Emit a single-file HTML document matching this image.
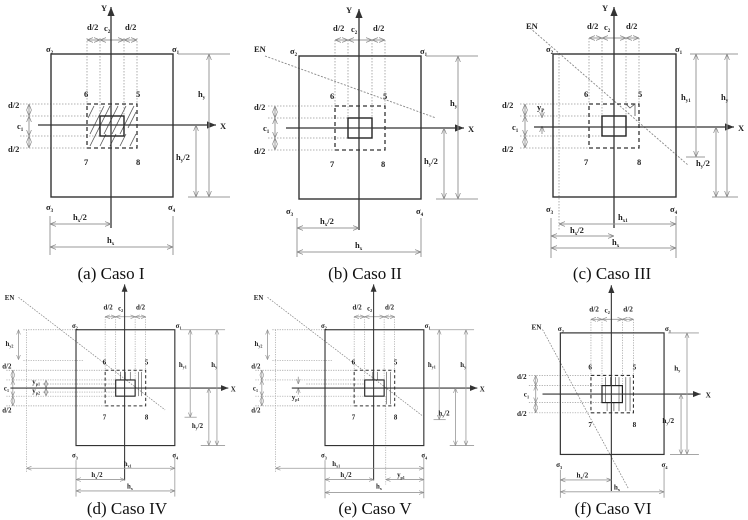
<!DOCTYPE html>
<html><head><meta charset="utf-8"><style>
html,body{margin:0;padding:0;background:#fff;}
svg{display:block;}
.t{font-family:"Liberation Serif",serif;font-weight:bold;font-size:8.5px;fill:#222;}
.cap{font-family:"Liberation Serif",serif;font-size:17px;fill:#111;}
.sq{fill:none;stroke:#333;stroke-width:1.4;}
.ax{stroke:#333;stroke-width:1.3;fill:none;}
.dim{stroke:#999;stroke-width:1;fill:none;}
.dt{stroke:#999;stroke-width:0.8;stroke-dasharray:1.5,1.5;fill:none;}
.ds{stroke:#333;stroke-width:1.3;stroke-dasharray:4,3;fill:none;}
.col{fill:none;stroke:#222;stroke-width:1.4;}
.en{stroke:#888;stroke-width:0.9;stroke-dasharray:2,1.5;fill:none;}
.h{stroke:#555;stroke-width:0.8;fill:none;}
</style></head><body>
<svg width="748" height="520" viewBox="0 0 748 520" xmlns="http://www.w3.org/2000/svg">
<defs>
<marker id="a" viewBox="0 0 10 10" refX="10" refY="5" markerWidth="6" markerHeight="6" orient="auto-start-reverse"><path d="M0,1 L10,5 L0,9" fill="none" stroke="#888" stroke-width="1.2"/></marker>
<marker id="b" viewBox="0 0 10 10" refX="10" refY="5" markerWidth="7" markerHeight="7" orient="auto"><path d="M0,1 L10,5 L0,9 z" fill="#333"/></marker>
</defs>

<!-- ========== Panel A ========== -->
<g>
<line class="dt" x1="87" y1="38" x2="87" y2="104"/><line class="dt" x1="100" y1="38" x2="100" y2="116"/><line class="dt" x1="124" y1="38" x2="124" y2="116"/><line class="dt" x1="137" y1="38" x2="137" y2="104"/>
<line class="dt" x1="20" y1="104" x2="87" y2="104"/><line class="dt" x1="20" y1="116" x2="100" y2="116"/><line class="dt" x1="20" y1="136" x2="100" y2="136"/><line class="dt" x1="20" y1="148" x2="87" y2="148"/>
<line class="dim" x1="87" y1="40" x2="100" y2="40" marker-start="url(#a)" marker-end="url(#a)"/><line class="dim" x1="100" y1="40" x2="124" y2="40" marker-start="url(#a)" marker-end="url(#a)"/><line class="dim" x1="124" y1="40" x2="137" y2="40" marker-start="url(#a)" marker-end="url(#a)"/>
<text class="t" x="87" y="30">d/2</text><text class="t" x="104" y="31">c<tspan font-size="5" dy="2">2</tspan></text><text class="t" x="125" y="30">d/2</text>
<line class="dim" x1="29" y1="104" x2="29" y2="116" marker-start="url(#a)" marker-end="url(#a)"/><line class="dim" x1="29" y1="116" x2="29" y2="136" marker-start="url(#a)" marker-end="url(#a)"/><line class="dim" x1="29" y1="136" x2="29" y2="148" marker-start="url(#a)" marker-end="url(#a)"/>
<text class="t" x="8" y="108">d/2</text><text class="t" x="17" y="129">c<tspan font-size="5" dy="2">1</tspan></text><text class="t" x="8" y="152">d/2</text>
<rect class="sq" x="51" y="54" width="122" height="143"/>
<path class="h" d="M90,134 L104,106 M96,134 L110,106 M104,134 L118,106 M112,134 L126,106 M120,134 L134,106 M90,146 L96,134 M100,146 L106,134 M110,146 L116,134 M120,146 L126,134 M130,146 L136,134 M88,118 L94,106 M128,128 L136,112"/>
<rect class="ds" x="87" y="104" width="50" height="44"/>
<rect class="col" x="100" y="116" width="24" height="20"/>
<line class="ax" x1="111" y1="228" x2="111" y2="7" marker-end="url(#b)"/>
<line class="ax" x1="38" y1="125" x2="216" y2="125" marker-end="url(#b)"/>
<text class="t" x="101" y="11" font-size="10">Y</text><text class="t" x="220" y="129" font-size="10">X</text>
<text class="t" x="84" y="97">6</text><text class="t" x="136" y="97">5</text><text class="t" x="84" y="165">7</text><text class="t" x="136" y="165">8</text>
<text class="t" x="46" y="52">σ<tspan font-size="5" dy="2">2</tspan></text><text class="t" x="172" y="52">σ<tspan font-size="5" dy="2">1</tspan></text>
<text class="t" x="46" y="210">σ<tspan font-size="5" dy="2">3</tspan></text><text class="t" x="168" y="210">σ<tspan font-size="5" dy="2">4</tspan></text>
<line class="dim" x1="178" y1="54" x2="230" y2="54"/><line class="dim" x1="188" y1="197" x2="230" y2="197"/>
<line class="dim" x1="209" y1="54" x2="209" y2="197" marker-start="url(#a)" marker-end="url(#a)"/><line class="dim" x1="196" y1="125" x2="196" y2="197" marker-start="url(#a)" marker-end="url(#a)"/>
<text class="t" x="198" y="97">h<tspan font-size="5" dy="2">y</tspan></text><text class="t" x="176" y="160">h<tspan font-size="5" dy="2">y</tspan><tspan dy="-2">/2</tspan></text>
<line class="dim" x1="50" y1="216" x2="50" y2="255"/><line class="dim" x1="173" y1="216" x2="173" y2="255"/>
<line class="dim" x1="50" y1="224" x2="111" y2="224" marker-start="url(#a)" marker-end="url(#a)"/><line class="dim" x1="50" y1="247" x2="173" y2="247" marker-start="url(#a)" marker-end="url(#a)"/>
<text class="t" x="73" y="220">h<tspan font-size="5" dy="2">x</tspan><tspan dy="-2">/2</tspan></text><text class="t" x="107" y="243">h<tspan font-size="5" dy="2">x</tspan></text>
</g>
<text class="cap" x="111" y="279" text-anchor="middle">(a) Caso I</text>

<!-- ========== Panel B ========== -->
<g transform="translate(248,2)">
<line class="dt" x1="87" y1="38" x2="87" y2="104"/><line class="dt" x1="100" y1="38" x2="100" y2="116"/><line class="dt" x1="124" y1="38" x2="124" y2="116"/><line class="dt" x1="137" y1="38" x2="137" y2="104"/>
<line class="dt" x1="20" y1="104" x2="87" y2="104"/><line class="dt" x1="20" y1="116" x2="100" y2="116"/><line class="dt" x1="20" y1="136" x2="100" y2="136"/><line class="dt" x1="20" y1="148" x2="87" y2="148"/>
<line class="dim" x1="87" y1="38" x2="100" y2="38" marker-start="url(#a)" marker-end="url(#a)"/><line class="dim" x1="100" y1="38" x2="124" y2="38" marker-start="url(#a)" marker-end="url(#a)"/><line class="dim" x1="124" y1="38" x2="137" y2="38" marker-start="url(#a)" marker-end="url(#a)"/>
<text class="t" x="85" y="29">d/2</text><text class="t" x="103" y="30">c<tspan font-size="5" dy="2">2</tspan></text><text class="t" x="125" y="29">d/2</text>
<line class="dim" x1="27" y1="104" x2="27" y2="116" marker-start="url(#a)" marker-end="url(#a)"/><line class="dim" x1="27" y1="116" x2="27" y2="136" marker-start="url(#a)" marker-end="url(#a)"/><line class="dim" x1="27" y1="136" x2="27" y2="148" marker-start="url(#a)" marker-end="url(#a)"/>
<text class="t" x="6" y="108">d/2</text><text class="t" x="15" y="129">c<tspan font-size="5" dy="2">1</tspan></text><text class="t" x="6" y="152">d/2</text>
<line class="en" x1="17" y1="54" x2="188" y2="116"/><text class="t" x="6" y="50">EN</text>
<rect class="sq" x="51" y="54" width="122" height="143"/>
<rect class="ds" x="87" y="104" width="50" height="44"/>
<rect class="col" x="100" y="116" width="24" height="20"/>
<line class="ax" x1="111" y1="228" x2="111" y2="7" marker-end="url(#b)"/>
<line class="ax" x1="38" y1="126" x2="216" y2="126" marker-end="url(#b)"/>
<text class="t" x="98" y="11" font-size="10">Y</text><text class="t" x="220" y="130" font-size="10">X</text>
<text class="t" x="82" y="97">6</text><text class="t" x="135" y="97">5</text><text class="t" x="82" y="165">7</text><text class="t" x="133" y="165">8</text>
<text class="t" x="42" y="52">σ<tspan font-size="5" dy="2">2</tspan></text><text class="t" x="172" y="52">σ<tspan font-size="5" dy="2">1</tspan></text>
<text class="t" x="38" y="212">σ<tspan font-size="5" dy="2">3</tspan></text><text class="t" x="168" y="212">σ<tspan font-size="5" dy="2">4</tspan></text>
<line class="dim" x1="178" y1="54" x2="230" y2="54"/><line class="dim" x1="188" y1="197" x2="230" y2="197"/>
<line class="dim" x1="210" y1="54" x2="210" y2="197" marker-start="url(#a)" marker-end="url(#a)"/><line class="dim" x1="196" y1="126" x2="196" y2="197" marker-start="url(#a)" marker-end="url(#a)"/>
<text class="t" x="202" y="104">h<tspan font-size="5" dy="2">y</tspan></text><text class="t" x="176" y="162">h<tspan font-size="5" dy="2">y</tspan><tspan dy="-2">/2</tspan></text>
<line class="dim" x1="49" y1="216" x2="49" y2="255"/><line class="dim" x1="173" y1="216" x2="173" y2="255"/>
<line class="dim" x1="49" y1="226" x2="111" y2="226" marker-start="url(#a)" marker-end="url(#a)"/><line class="dim" x1="49" y1="250" x2="173" y2="250" marker-start="url(#a)" marker-end="url(#a)"/>
<text class="t" x="72" y="222">h<tspan font-size="5" dy="2">x</tspan><tspan dy="-2">/2</tspan></text><text class="t" x="107" y="246">h<tspan font-size="5" dy="2">x</tspan></text>
</g>
<text class="cap" x="365" y="279" text-anchor="middle">(b) Caso II</text>

<!-- ========== Panel C ========== -->
<g transform="translate(500,0)">
<line class="dt" x1="89" y1="38" x2="89" y2="104"/><line class="dt" x1="102" y1="38" x2="102" y2="116"/><line class="dt" x1="126" y1="38" x2="126" y2="116"/><line class="dt" x1="139" y1="38" x2="139" y2="104"/>
<line class="dt" x1="59" y1="54" x2="59" y2="230"/>
<line class="dt" x1="20" y1="104" x2="89" y2="104"/><line class="dt" x1="20" y1="116" x2="102" y2="116"/><line class="dt" x1="20" y1="136" x2="102" y2="136"/><line class="dt" x1="20" y1="148" x2="89" y2="148"/>
<line class="dim" x1="89" y1="38" x2="102" y2="38" marker-start="url(#a)" marker-end="url(#a)"/><line class="dim" x1="102" y1="38" x2="126" y2="38" marker-start="url(#a)" marker-end="url(#a)"/><line class="dim" x1="126" y1="38" x2="139" y2="38" marker-start="url(#a)" marker-end="url(#a)"/>
<text class="t" x="87" y="29">d/2</text><text class="t" x="104" y="30">c<tspan font-size="5" dy="2">2</tspan></text><text class="t" x="126" y="29">d/2</text>
<line class="dim" x1="25" y1="104" x2="25" y2="116" marker-start="url(#a)" marker-end="url(#a)"/><line class="dim" x1="25" y1="116" x2="25" y2="136" marker-start="url(#a)" marker-end="url(#a)"/><line class="dim" x1="25" y1="136" x2="25" y2="148" marker-start="url(#a)" marker-end="url(#a)"/>
<line class="dim" x1="42" y1="110" x2="42" y2="118" marker-end="url(#a)"/><line class="dim" x1="42" y1="134" x2="42" y2="126" marker-end="url(#a)"/>
<text class="t" x="2" y="108">d/2</text><text class="t" x="12" y="130">c<tspan font-size="5" dy="2">1</tspan></text><text class="t" x="2" y="152">d/2</text>
<text class="t" x="37" y="110">y<tspan font-size="5" dy="2">P</tspan></text>
<line class="en" x1="30" y1="28" x2="188" y2="165"/><text class="t" x="26" y="29">EN</text>
<rect class="sq" x="53" y="54" width="123" height="143"/>
<rect class="ds" x="89" y="104" width="50" height="44"/>
<path class="h" d="M126,104 L130,108 L135,104 L135,116"/>
<rect class="col" x="102" y="116" width="24" height="20"/>
<line class="ax" x1="114" y1="228" x2="114" y2="7" marker-end="url(#b)"/>
<line class="ax" x1="34" y1="127" x2="234" y2="127" marker-end="url(#b)"/>
<text class="t" x="102" y="11" font-size="10">Y</text><text class="t" x="238" y="131" font-size="10">X</text>
<text class="t" x="84" y="97">6</text><text class="t" x="138" y="97">5</text><text class="t" x="84" y="165">7</text><text class="t" x="137" y="165">8</text>
<text class="t" x="46" y="52">σ<tspan font-size="5" dy="2">2</tspan></text><text class="t" x="175" y="52">σ<tspan font-size="5" dy="2">1</tspan></text>
<text class="t" x="46" y="212">σ<tspan font-size="5" dy="2">3</tspan></text><text class="t" x="170" y="212">σ<tspan font-size="5" dy="2">4</tspan></text>
<line class="dim" x1="190" y1="54" x2="238" y2="54"/><line class="dim" x1="212" y1="197" x2="238" y2="197"/><line class="dim" x1="186" y1="157" x2="205" y2="157"/>
<line class="dim" x1="196" y1="54" x2="196" y2="157" marker-start="url(#a)" marker-end="url(#a)"/>
<line class="dim" x1="227" y1="54" x2="227" y2="197" marker-start="url(#a)" marker-end="url(#a)"/><line class="dim" x1="216" y1="127" x2="216" y2="197" marker-start="url(#a)" marker-end="url(#a)"/>
<text class="t" x="181" y="100">h<tspan font-size="5" dy="2">y1</tspan></text><text class="t" x="221" y="100">h<tspan font-size="5" dy="2">y</tspan></text>
<text class="t" x="196" y="166">h<tspan font-size="5" dy="2">y</tspan><tspan dy="-2">/2</tspan></text>
<line class="dim" x1="51" y1="218" x2="51" y2="258"/><line class="dim" x1="176" y1="216" x2="176" y2="258"/>
<line class="dim" x1="59" y1="224" x2="176" y2="224" marker-start="url(#a)" marker-end="url(#a)"/>
<line class="dim" x1="51" y1="236" x2="114" y2="236" marker-start="url(#a)" marker-end="url(#a)"/><line class="dim" x1="51" y1="248" x2="176" y2="248" marker-start="url(#a)" marker-end="url(#a)"/>
<text class="t" x="118" y="220">h<tspan font-size="5" dy="2">x1</tspan></text>
<text class="t" x="70" y="233">h<tspan font-size="5" dy="2">x</tspan><tspan dy="-2">/2</tspan></text><text class="t" x="112" y="245">h<tspan font-size="5" dy="2">x</tspan></text>
</g>
<text class="cap" x="612" y="279" text-anchor="middle">(c) Caso III</text>

<!-- ========== Panel D ========== -->
<g transform="translate(34.7,286) scale(0.81)">
<line class="dt" x1="87" y1="38" x2="87" y2="104"/><line class="dt" x1="100" y1="38" x2="100" y2="116"/><line class="dt" x1="124" y1="38" x2="124" y2="116"/><line class="dt" x1="137" y1="38" x2="137" y2="104"/>
<line class="dt" x1="-14" y1="54" x2="51" y2="54"/><line class="dt" x1="-14" y1="92" x2="60" y2="92"/><line class="dt" x1="-10" y1="54" x2="-10" y2="230"/>
<line class="dt" x1="-35" y1="104" x2="87" y2="104"/><line class="dt" x1="-35" y1="116" x2="100" y2="116"/><line class="dt" x1="-35" y1="136" x2="100" y2="136"/><line class="dt" x1="-35" y1="148" x2="87" y2="148"/>
<line class="dt" x1="10" y1="121" x2="100" y2="121"/><line class="dt" x1="10" y1="131" x2="100" y2="131"/>
<line class="dim" x1="87" y1="38" x2="100" y2="38" marker-start="url(#a)" marker-end="url(#a)"/><line class="dim" x1="100" y1="38" x2="124" y2="38" marker-start="url(#a)" marker-end="url(#a)"/><line class="dim" x1="124" y1="38" x2="137" y2="38" marker-start="url(#a)" marker-end="url(#a)"/>
<text class="t" x="85" y="29">d/2</text><text class="t" x="103" y="30">c<tspan font-size="5" dy="2">2</tspan></text><text class="t" x="125" y="29">d/2</text>
<line class="dim" x1="-20" y1="54" x2="-20" y2="91" marker-start="url(#a)" marker-end="url(#a)"/><text class="t" x="-36" y="74">h<tspan font-size="5" dy="2">y2</tspan></text>
<line class="dim" x1="-27" y1="104" x2="-27" y2="116" marker-start="url(#a)" marker-end="url(#a)"/><line class="dim" x1="-27" y1="116" x2="-27" y2="136" marker-start="url(#a)" marker-end="url(#a)"/><line class="dim" x1="-27" y1="136" x2="-27" y2="148" marker-start="url(#a)" marker-end="url(#a)"/>
<line class="dim" x1="14" y1="116" x2="14" y2="126" marker-start="url(#a)" marker-end="url(#a)"/><line class="dim" x1="14" y1="126" x2="14" y2="136" marker-start="url(#a)" marker-end="url(#a)"/>
<text class="t" x="-40" y="102">d/2</text><text class="t" x="-38" y="129">c<tspan font-size="5" dy="2">1</tspan></text><text class="t" x="-40" y="156">d/2</text>
<text class="t" x="-3" y="121">y<tspan font-size="5" dy="2">p1</tspan></text><text class="t" x="-3" y="132">y<tspan font-size="5" dy="2">p2</tspan></text>
<line class="en" x1="-20" y1="14" x2="161" y2="153"/><text class="t" x="-37" y="17">EN</text>
<rect class="sq" x="51" y="54" width="122" height="143"/>
<path class="h" d="M106,106 V116 M112,106 V116 M118,106 V116 M128,106 V136 M132,106 V136"/>
<rect class="ds" x="87" y="104" width="50" height="44"/>
<rect class="col" x="100" y="116" width="24" height="20"/>
<line class="ax" x1="111" y1="240" x2="111" y2="-2" marker-end="url(#b)"/>
<line class="ax" x1="-30" y1="126" x2="239" y2="126" marker-end="url(#b)"/>
<text class="t" x="242" y="130" font-size="10">X</text>
<text class="t" x="84" y="97">6</text><text class="t" x="136" y="97">5</text><text class="t" x="84" y="165">7</text><text class="t" x="136" y="165">8</text>
<text class="t" x="46" y="52">σ<tspan font-size="5" dy="2">2</tspan></text><text class="t" x="174" y="52">σ<tspan font-size="5" dy="2">1</tspan></text>
<text class="t" x="46" y="212">σ<tspan font-size="5" dy="2">3</tspan></text><text class="t" x="170" y="212">σ<tspan font-size="5" dy="2">4</tspan></text>
<line class="dim" x1="180" y1="54" x2="235" y2="54"/><line class="dim" x1="205" y1="197" x2="235" y2="197"/><line class="dim" x1="185" y1="162" x2="200" y2="162"/>
<line class="dim" x1="192" y1="54" x2="192" y2="162" marker-start="url(#a)" marker-end="url(#a)"/>
<line class="dim" x1="225" y1="54" x2="225" y2="197" marker-start="url(#a)" marker-end="url(#a)"/><line class="dim" x1="215" y1="126" x2="215" y2="197" marker-start="url(#a)" marker-end="url(#a)"/>
<text class="t" x="178" y="100">h<tspan font-size="5" dy="2">y1</tspan></text><text class="t" x="218" y="100">h<tspan font-size="5" dy="2">y</tspan></text>
<text class="t" x="194" y="175">h<tspan font-size="5" dy="2">y</tspan><tspan dy="-2">/2</tspan></text>
<line class="dim" x1="51" y1="215" x2="51" y2="260"/><line class="dim" x1="173" y1="212" x2="173" y2="260"/>
<line class="dim" x1="-10" y1="225" x2="173" y2="225" marker-start="url(#a)" marker-end="url(#a)"/>
<line class="dim" x1="51" y1="239" x2="111" y2="239" marker-start="url(#a)" marker-end="url(#a)"/><line class="dim" x1="51" y1="253" x2="173" y2="253" marker-start="url(#a)" marker-end="url(#a)"/>
<text class="t" x="110" y="222">h<tspan font-size="5" dy="2">x1</tspan></text>
<text class="t" x="70" y="236">h<tspan font-size="5" dy="2">x</tspan><tspan dy="-2">/2</tspan></text><text class="t" x="114" y="250">h<tspan font-size="5" dy="2">x</tspan></text>
</g>
<text class="cap" x="127" y="514" text-anchor="middle">(d) Caso IV</text>

<!-- ========== Panel E ========== -->
<g transform="translate(283.7,286) scale(0.81)">
<line class="dt" x1="87" y1="38" x2="87" y2="104"/><line class="dt" x1="100" y1="38" x2="100" y2="116"/><line class="dt" x1="124" y1="38" x2="124" y2="116"/><line class="dt" x1="137" y1="38" x2="137" y2="104"/>
<line class="dt" x1="-14" y1="54" x2="51" y2="54"/><line class="dt" x1="-14" y1="92" x2="60" y2="92"/><line class="dt" x1="-10" y1="54" x2="-10" y2="230"/>
<line class="dt" x1="-35" y1="104" x2="87" y2="104"/><line class="dt" x1="-35" y1="116" x2="100" y2="116"/><line class="dt" x1="-35" y1="136" x2="100" y2="136"/><line class="dt" x1="-35" y1="148" x2="87" y2="148"/>
<line class="dt" x1="28" y1="121" x2="100" y2="121"/><line class="dt" x1="126" y1="136" x2="126" y2="245"/>
<line class="dim" x1="87" y1="38" x2="100" y2="38" marker-start="url(#a)" marker-end="url(#a)"/><line class="dim" x1="100" y1="38" x2="124" y2="38" marker-start="url(#a)" marker-end="url(#a)"/><line class="dim" x1="124" y1="38" x2="137" y2="38" marker-start="url(#a)" marker-end="url(#a)"/>
<text class="t" x="85" y="29">d/2</text><text class="t" x="103" y="30">c<tspan font-size="5" dy="2">2</tspan></text><text class="t" x="125" y="29">d/2</text>
<line class="dim" x1="-20" y1="54" x2="-20" y2="91" marker-start="url(#a)" marker-end="url(#a)"/><text class="t" x="-36" y="74">h<tspan font-size="5" dy="2">y2</tspan></text>
<line class="dim" x1="-27" y1="104" x2="-27" y2="116" marker-start="url(#a)" marker-end="url(#a)"/><line class="dim" x1="-27" y1="116" x2="-27" y2="136" marker-start="url(#a)" marker-end="url(#a)"/><line class="dim" x1="-27" y1="136" x2="-27" y2="148" marker-start="url(#a)" marker-end="url(#a)"/>
<line class="dim" x1="18" y1="112" x2="18" y2="121" marker-end="url(#a)"/><line class="dim" x1="18" y1="134" x2="18" y2="126" marker-end="url(#a)"/>
<text class="t" x="-40" y="102">d/2</text><text class="t" x="-38" y="129">c<tspan font-size="5" dy="2">1</tspan></text><text class="t" x="-40" y="156">d/2</text>
<text class="t" x="10" y="140">y<tspan font-size="5" dy="2">p1</tspan></text>
<line class="en" x1="-20" y1="14" x2="171" y2="160"/><text class="t" x="-37" y="17">EN</text>
<rect class="sq" x="51" y="54" width="122" height="143"/>
<path class="h" d="M127,106 V146 M132,106 V146 M110,106 V116 M116,106 V116"/>
<rect class="ds" x="87" y="104" width="50" height="44"/>
<rect class="col" x="100" y="116" width="24" height="20"/>
<line class="ax" x1="111" y1="240" x2="111" y2="-2" marker-end="url(#b)"/>
<line class="ax" x1="10" y1="126" x2="239" y2="126" marker-end="url(#b)"/>
<text class="t" x="242" y="130" font-size="10">X</text>
<text class="t" x="84" y="97">6</text><text class="t" x="136" y="97">5</text><text class="t" x="84" y="165">7</text><text class="t" x="136" y="165">8</text>
<text class="t" x="46" y="52">σ<tspan font-size="5" dy="2">2</tspan></text><text class="t" x="174" y="52">σ<tspan font-size="5" dy="2">1</tspan></text>
<text class="t" x="46" y="212">σ<tspan font-size="5" dy="2">3</tspan></text><text class="t" x="170" y="212">σ<tspan font-size="5" dy="2">4</tspan></text>
<line class="dim" x1="180" y1="54" x2="235" y2="54"/><line class="dim" x1="205" y1="197" x2="235" y2="197"/><line class="dim" x1="185" y1="165" x2="200" y2="165"/>
<line class="dim" x1="192" y1="54" x2="192" y2="165" marker-start="url(#a)" marker-end="url(#a)"/>
<line class="dim" x1="225" y1="54" x2="225" y2="197" marker-start="url(#a)" marker-end="url(#a)"/><line class="dim" x1="212" y1="126" x2="212" y2="197" marker-start="url(#a)" marker-end="url(#a)"/>
<text class="t" x="178" y="100">h<tspan font-size="5" dy="2">y1</tspan></text><text class="t" x="218" y="100">h<tspan font-size="5" dy="2">y</tspan></text>
<text class="t" x="191" y="160">h<tspan font-size="5" dy="2">y</tspan><tspan dy="-2">/2</tspan></text>
<line class="dim" x1="51" y1="215" x2="51" y2="262"/><line class="dim" x1="173" y1="212" x2="173" y2="262"/>
<line class="dim" x1="-10" y1="225" x2="173" y2="225" marker-start="url(#a)" marker-end="url(#a)"/>
<line class="dim" x1="51" y1="239" x2="111" y2="239" marker-start="url(#a)" marker-end="url(#a)"/><line class="dim" x1="126" y1="239" x2="173" y2="239" marker-start="url(#a)" marker-end="url(#a)"/><line class="dim" x1="51" y1="255" x2="173" y2="255" marker-start="url(#a)" marker-end="url(#a)"/>
<text class="t" x="60" y="222">h<tspan font-size="5" dy="2">x1</tspan></text>
<text class="t" x="70" y="236">h<tspan font-size="5" dy="2">x</tspan><tspan dy="-2">/2</tspan></text><text class="t" x="140" y="236">y<tspan font-size="5" dy="2">p1</tspan></text><text class="t" x="114" y="250">h<tspan font-size="5" dy="2">x</tspan></text>
</g>
<text class="cap" x="375" y="514" text-anchor="middle">(e) Caso V</text>

<!-- ========== Panel F ========== -->
<g transform="translate(517,287) scale(0.85)">
<line class="dt" x1="87" y1="38" x2="87" y2="104"/><line class="dt" x1="100" y1="38" x2="100" y2="116"/><line class="dt" x1="124" y1="38" x2="124" y2="116"/><line class="dt" x1="137" y1="38" x2="137" y2="104"/>
<line class="dt" x1="14" y1="104" x2="87" y2="104"/><line class="dt" x1="14" y1="116" x2="100" y2="116"/><line class="dt" x1="14" y1="136" x2="100" y2="136"/><line class="dt" x1="14" y1="148" x2="87" y2="148"/>
<line class="dim" x1="87" y1="38" x2="100" y2="38" marker-start="url(#a)" marker-end="url(#a)"/><line class="dim" x1="100" y1="38" x2="124" y2="38" marker-start="url(#a)" marker-end="url(#a)"/><line class="dim" x1="124" y1="38" x2="137" y2="38" marker-start="url(#a)" marker-end="url(#a)"/>
<text class="t" x="85" y="29">d/2</text><text class="t" x="103" y="30">c<tspan font-size="5" dy="2">2</tspan></text><text class="t" x="125" y="29">d/2</text>
<line class="dim" x1="22" y1="104" x2="22" y2="116" marker-start="url(#a)" marker-end="url(#a)"/><line class="dim" x1="22" y1="116" x2="22" y2="136" marker-start="url(#a)" marker-end="url(#a)"/><line class="dim" x1="22" y1="136" x2="22" y2="148" marker-start="url(#a)" marker-end="url(#a)"/>
<text class="t" x="0" y="108">d/2</text><text class="t" x="8" y="129">c<tspan font-size="5" dy="2">1</tspan></text><text class="t" x="0" y="152">d/2</text>
<line class="en" x1="30" y1="50" x2="131" y2="237"/><text class="t" x="17" y="50">EN</text>
<rect class="sq" x="51" y="54" width="122" height="143"/>
<path class="h" d="M104,106 V136 M110,106 V116 M116,106 V116 M120,106 V136 M128,106 V146 M133,106 V146 M106,136 V146 M114,136 V146 M120,136 V146"/>
<rect class="ds" x="87" y="104" width="50" height="44"/>
<rect class="col" x="100" y="116" width="24" height="20"/>
<line class="ax" x1="111" y1="240" x2="111" y2="-2" marker-end="url(#b)"/>
<line class="ax" x1="30" y1="126" x2="216" y2="126" marker-end="url(#b)"/>
<text class="t" x="222" y="130" font-size="10">X</text>
<text class="t" x="84" y="97">6</text><text class="t" x="136" y="97">5</text><text class="t" x="84" y="165">7</text><text class="t" x="136" y="165">8</text>
<text class="t" x="48" y="52">σ<tspan font-size="5" dy="2">2</tspan></text><text class="t" x="174" y="52">σ<tspan font-size="5" dy="2">1</tspan></text>
<text class="t" x="46" y="212">σ<tspan font-size="5" dy="2">3</tspan></text><text class="t" x="170" y="212">σ<tspan font-size="5" dy="2">4</tspan></text>
<line class="dim" x1="178" y1="54" x2="214" y2="54"/><line class="dim" x1="180" y1="197" x2="214" y2="197"/>
<line class="dim" x1="200" y1="54" x2="200" y2="197" marker-start="url(#a)" marker-end="url(#a)"/><line class="dim" x1="193" y1="126" x2="193" y2="197" marker-start="url(#a)" marker-end="url(#a)"/>
<text class="t" x="185" y="98">h<tspan font-size="5" dy="2">y</tspan></text><text class="t" x="171" y="160">h<tspan font-size="5" dy="2">y</tspan><tspan dy="-2">/2</tspan></text>
<line class="dim" x1="51" y1="215" x2="51" y2="248"/><line class="dim" x1="173" y1="212" x2="173" y2="248"/>
<line class="dim" x1="51" y1="227" x2="111" y2="227" marker-start="url(#a)" marker-end="url(#a)"/><line class="dim" x1="51" y1="241" x2="173" y2="241" marker-start="url(#a)" marker-end="url(#a)"/>
<text class="t" x="70" y="224">h<tspan font-size="5" dy="2">x</tspan><tspan dy="-2">/2</tspan></text><text class="t" x="114" y="238">h<tspan font-size="5" dy="2">x</tspan></text>
</g>
<text class="cap" x="613" y="514" text-anchor="middle">(f) Caso VI</text>
</svg>
</body></html>
